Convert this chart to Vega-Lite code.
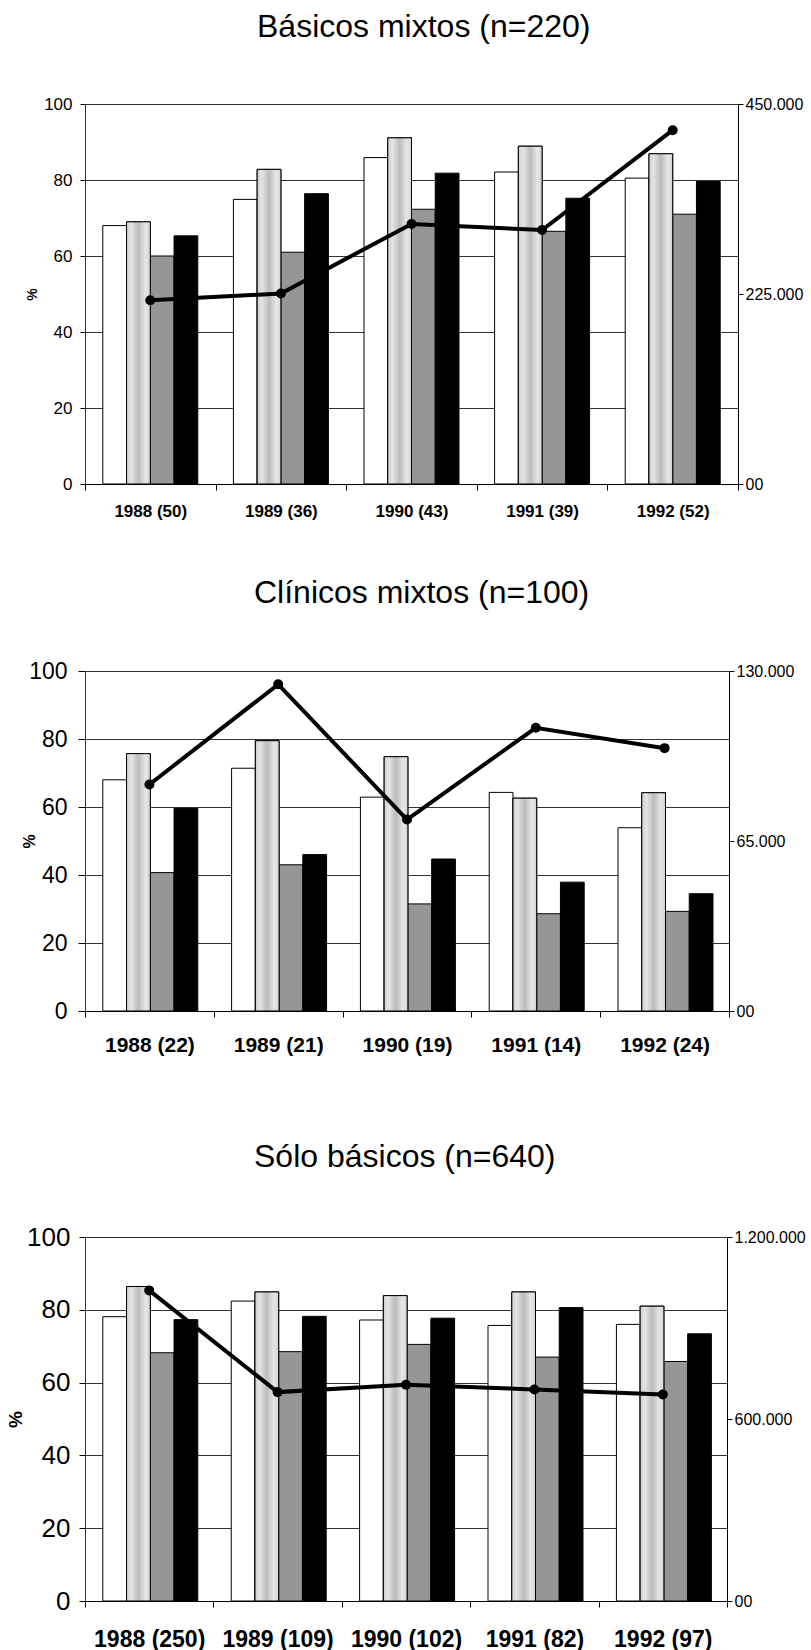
{
  "$schema": "https://vega.github.io/schema/vega-lite/v6.json",
  "padding": {"left": 6, "top": 11, "right": 0, "bottom": 0},
  "background": "white",
  "config": {
    "font": "Liberation Sans",
    "view": {"stroke": null},
    "concat": {"spacing": 58},
    "axis": {"labelColor": "#000", "titleColor": "#000", "domainColor": "#000", "tickColor": "#000", "gridColor": "#333", "labelFont": "Liberation Sans", "titleFont": "Liberation Sans"},
    "title": {"font": "Liberation Sans", "fontWeight": "normal", "color": "#000"}
  },
  "datasets": {
    "b1": [
      {"g": "1988 (50)", "s": "s1", "v": 68.0}, {"g": "1988 (50)", "s": "s2", "v": 69.0}, {"g": "1988 (50)", "s": "s3", "v": 60.0}, {"g": "1988 (50)", "s": "s4", "v": 65.3},
      {"g": "1989 (36)", "s": "s1", "v": 74.9}, {"g": "1989 (36)", "s": "s2", "v": 82.8}, {"g": "1989 (36)", "s": "s3", "v": 61.0}, {"g": "1989 (36)", "s": "s4", "v": 76.4},
      {"g": "1990 (43)", "s": "s1", "v": 85.9}, {"g": "1990 (43)", "s": "s2", "v": 91.1}, {"g": "1990 (43)", "s": "s3", "v": 72.3}, {"g": "1990 (43)", "s": "s4", "v": 81.8},
      {"g": "1991 (39)", "s": "s1", "v": 82.1}, {"g": "1991 (39)", "s": "s2", "v": 88.9}, {"g": "1991 (39)", "s": "s3", "v": 66.5}, {"g": "1991 (39)", "s": "s4", "v": 75.2},
      {"g": "1992 (52)", "s": "s1", "v": 80.5}, {"g": "1992 (52)", "s": "s2", "v": 86.9}, {"g": "1992 (52)", "s": "s3", "v": 71.0}, {"g": "1992 (52)", "s": "s4", "v": 79.6}
    ],
    "l1": [
      {"g": "1988 (50)", "n": 217500}, {"g": "1989 (36)", "n": 225500}, {"g": "1990 (43)", "n": 308000}, {"g": "1991 (39)", "n": 300700}, {"g": "1992 (52)", "n": 419000}
    ],
    "b2": [
      {"g": "1988 (22)", "s": "s1", "v": 68.0}, {"g": "1988 (22)", "s": "s2", "v": 75.7}, {"g": "1988 (22)", "s": "s3", "v": 40.7}, {"g": "1988 (22)", "s": "s4", "v": 59.6},
      {"g": "1989 (21)", "s": "s1", "v": 71.4}, {"g": "1989 (21)", "s": "s2", "v": 79.5}, {"g": "1989 (21)", "s": "s3", "v": 43.0}, {"g": "1989 (21)", "s": "s4", "v": 46.0},
      {"g": "1990 (19)", "s": "s1", "v": 62.9}, {"g": "1990 (19)", "s": "s2", "v": 74.8}, {"g": "1990 (19)", "s": "s3", "v": 31.5}, {"g": "1990 (19)", "s": "s4", "v": 44.7},
      {"g": "1991 (14)", "s": "s1", "v": 64.3}, {"g": "1991 (14)", "s": "s2", "v": 62.6}, {"g": "1991 (14)", "s": "s3", "v": 28.6}, {"g": "1991 (14)", "s": "s4", "v": 37.9},
      {"g": "1992 (24)", "s": "s1", "v": 53.9}, {"g": "1992 (24)", "s": "s2", "v": 64.2}, {"g": "1992 (24)", "s": "s3", "v": 29.3}, {"g": "1992 (24)", "s": "s4", "v": 34.5}
    ],
    "l2": [
      {"g": "1988 (22)", "n": 86600}, {"g": "1989 (21)", "n": 124900}, {"g": "1990 (19)", "n": 73200}, {"g": "1991 (14)", "n": 108300}, {"g": "1992 (24)", "n": 100500}
    ],
    "b3": [
      {"g": "1988 (250)", "s": "s1", "v": 78.1}, {"g": "1988 (250)", "s": "s2", "v": 86.4}, {"g": "1988 (250)", "s": "s3", "v": 68.2}, {"g": "1988 (250)", "s": "s4", "v": 77.3},
      {"g": "1989 (109)", "s": "s1", "v": 82.4}, {"g": "1989 (109)", "s": "s2", "v": 84.9}, {"g": "1989 (109)", "s": "s3", "v": 68.5}, {"g": "1989 (109)", "s": "s4", "v": 78.2},
      {"g": "1990 (102)", "s": "s1", "v": 77.2}, {"g": "1990 (102)", "s": "s2", "v": 83.9}, {"g": "1990 (102)", "s": "s3", "v": 70.5}, {"g": "1990 (102)", "s": "s4", "v": 77.7},
      {"g": "1991 (82)", "s": "s1", "v": 75.7}, {"g": "1991 (82)", "s": "s2", "v": 84.9}, {"g": "1991 (82)", "s": "s3", "v": 67.0}, {"g": "1991 (82)", "s": "s4", "v": 80.6},
      {"g": "1992 (97)", "s": "s1", "v": 76.0}, {"g": "1992 (97)", "s": "s2", "v": 81.0}, {"g": "1992 (97)", "s": "s3", "v": 65.8}, {"g": "1992 (97)", "s": "s4", "v": 73.4}
    ],
    "l3": [
      {"g": "1988 (250)", "n": 1024000}, {"g": "1989 (109)", "n": 688700}, {"g": "1990 (102)", "n": 713000}, {"g": "1991 (82)", "n": 697500}, {"g": "1992 (97)", "n": 680800}
    ]
  },
  "vconcat": [
    {
      "width": 653, "height": 380,
      "title": {"text": "Básicos mixtos (n=220)", "fontSize": 32, "anchor": "start", "frame": "group", "dx": 172, "offset": 26, "baseline": "alphabetic"},
      "encoding": {
        "x": {"field": "g", "type": "nominal", "sort": null, "scale": {"paddingInner": 0, "paddingOuter": 0},
          "axis": {"title": null, "labelAngle": 0, "tickBand": "extent", "tickSize": 6, "labelFontSize": 17, "labelFontWeight": "bold", "labelPadding": 13, "grid": false}}
      },
      "layer": [
        {
          "data": {"name": "b1"},
          "encoding": {
            "xOffset": {"field": "s", "type": "nominal", "scale": {"domain": ["s1", "s2", "s3", "s4"], "paddingInner": 0, "paddingOuter": 0.75}},
            "y": {"field": "v", "type": "quantitative", "scale": {"domain": [0, 100], "nice": false},
              "axis": {"values": [0, 20, 40, 60, 80, 100], "grid": true, "title": "%", "titleFontWeight": "bold", "titleFontSize": 14, "titleAngle": -90, "titleBaseline": "middle", "titleX": -53, "titleY": 190, "labelFontSize": 17, "tickSize": 5, "labelPadding": 8, "domainColor": "#333"}}
          },
          "layer": [
            {"mark": {"type": "bar", "stroke": "#000", "strokeWidth": 1},
              "encoding": {"fill": {"field": "s", "type": "nominal", "scale": {"domain": ["s1", "s2", "s3", "s4"], "range": ["#ffffff", "#d0d0d0", "#969696", "#000000"]}, "legend": null}}},
            {"transform": [{"filter": "datum.s == 's2'"}],
              "mark": {"type": "bar", "stroke": "#000", "strokeWidth": 1, "fill": {"gradient": "linear", "x1": 0, "x2": 1, "y1": 0, "y2": 0, "stops": [{"offset": 0, "color": "#cfcfcf"}, {"offset": 0.2, "color": "#e4e4e4"}, {"offset": 0.5, "color": "#bcbcbc"}, {"offset": 0.8, "color": "#e6e6e6"}, {"offset": 1, "color": "#d4d4d4"}]}}}
          ]
        },
        {
          "data": {"name": "l1"},
          "encoding": {
            "y": {"field": "n", "type": "quantitative", "scale": {"domain": [0, 450000], "nice": false},
              "axis": {"orient": "right", "title": null, "values": [0, 225000, 450000], "labelExpr": "datum.value == 0 ? '00' : replace(format(datum.value, ',d'), /,/g, '.')", "grid": false, "tickSize": 5, "labelFontSize": 16, "labelPadding": 2}}
          },
          "layer": [
            {"mark": {"type": "line", "color": "#000", "strokeWidth": 4}},
            {"mark": {"type": "point", "filled": true, "color": "#000", "size": 100, "opacity": 1}}
          ]
        }
      ],
      "resolve": {"scale": {"y": "independent"}}
    },
    {
      "width": 644, "height": 340,
      "title": {"text": "Clínicos mixtos (n=100)", "fontSize": 32, "anchor": "start", "frame": "group", "dx": 169, "offset": 25, "baseline": "alphabetic"},
      "encoding": {
        "x": {"field": "g", "type": "nominal", "sort": null, "scale": {"paddingInner": 0, "paddingOuter": 0},
          "axis": {"title": ".", "titleOpacity": 0, "titleFontSize": 10, "titlePadding": 18, "labelAngle": 0, "tickBand": "extent", "tickSize": 6, "labelFontSize": 21, "labelFontWeight": "bold", "labelPadding": 17, "grid": false}}
      },
      "layer": [
        {
          "data": {"name": "b2"},
          "encoding": {
            "xOffset": {"field": "s", "type": "nominal", "scale": {"domain": ["s1", "s2", "s3", "s4"], "paddingInner": 0, "paddingOuter": 0.73}},
            "y": {"field": "v", "type": "quantitative", "scale": {"domain": [0, 100], "nice": false},
              "axis": {"values": [0, 20, 40, 60, 80, 100], "grid": true, "title": "%", "titleFontWeight": "bold", "titleFontSize": 16, "titleAngle": -90, "titleBaseline": "middle", "titleX": -56, "titleY": 170, "labelFontSize": 23, "tickSize": 7, "labelPadding": 11, "domainColor": "#333"}}
          },
          "layer": [
            {"mark": {"type": "bar", "stroke": "#000", "strokeWidth": 1},
              "encoding": {"fill": {"field": "s", "type": "nominal", "scale": {"domain": ["s1", "s2", "s3", "s4"], "range": ["#ffffff", "#d0d0d0", "#969696", "#000000"]}, "legend": null}}},
            {"transform": [{"filter": "datum.s == 's2'"}],
              "mark": {"type": "bar", "stroke": "#000", "strokeWidth": 1, "fill": {"gradient": "linear", "x1": 0, "x2": 1, "y1": 0, "y2": 0, "stops": [{"offset": 0, "color": "#cfcfcf"}, {"offset": 0.2, "color": "#e4e4e4"}, {"offset": 0.5, "color": "#bcbcbc"}, {"offset": 0.8, "color": "#e6e6e6"}, {"offset": 1, "color": "#d4d4d4"}]}}}
          ]
        },
        {
          "data": {"name": "l2"},
          "encoding": {
            "y": {"field": "n", "type": "quantitative", "scale": {"domain": [0, 130000], "nice": false},
              "axis": {"orient": "right", "title": null, "values": [0, 65000, 130000], "labelExpr": "datum.value == 0 ? '00' : replace(format(datum.value, ',d'), /,/g, '.')", "grid": false, "tickSize": 5, "labelFontSize": 16, "labelPadding": 2}}
          },
          "layer": [
            {"mark": {"type": "line", "color": "#000", "strokeWidth": 4}},
            {"mark": {"type": "point", "filled": true, "color": "#000", "size": 100, "opacity": 1}}
          ]
        }
      ],
      "resolve": {"scale": {"y": "independent"}}
    },
    {
      "width": 642, "height": 364,
      "title": {"text": "Sólo básicos (n=640)", "fontSize": 32, "anchor": "start", "frame": "group", "dx": 169, "offset": 25, "baseline": "alphabetic"},
      "encoding": {
        "x": {"field": "g", "type": "nominal", "sort": null, "scale": {"paddingInner": 0, "paddingOuter": 0},
          "axis": {"title": null, "labelAngle": 0, "tickBand": "extent", "tickSize": 6, "labelFontSize": 23, "labelFontWeight": "bold", "labelPadding": 21, "grid": false}}
      },
      "layer": [
        {
          "data": {"name": "b3"},
          "encoding": {
            "xOffset": {"field": "s", "type": "nominal", "scale": {"domain": ["s1", "s2", "s3", "s4"], "paddingInner": 0, "paddingOuter": 0.667}},
            "y": {"field": "v", "type": "quantitative", "scale": {"domain": [0, 100], "nice": false},
              "axis": {"values": [0, 20, 40, 60, 80, 100], "grid": true, "title": "%", "titleFontWeight": "bold", "titleFontSize": 19, "titleAngle": -90, "titleBaseline": "middle", "titleX": -70, "titleY": 182, "labelFontSize": 26, "tickSize": 6, "labelPadding": 9, "domainColor": "#333"}}
          },
          "layer": [
            {"mark": {"type": "bar", "stroke": "#000", "strokeWidth": 1},
              "encoding": {"fill": {"field": "s", "type": "nominal", "scale": {"domain": ["s1", "s2", "s3", "s4"], "range": ["#ffffff", "#d0d0d0", "#969696", "#000000"]}, "legend": null}}},
            {"transform": [{"filter": "datum.s == 's2'"}],
              "mark": {"type": "bar", "stroke": "#000", "strokeWidth": 1, "fill": {"gradient": "linear", "x1": 0, "x2": 1, "y1": 0, "y2": 0, "stops": [{"offset": 0, "color": "#cfcfcf"}, {"offset": 0.2, "color": "#e4e4e4"}, {"offset": 0.5, "color": "#bcbcbc"}, {"offset": 0.8, "color": "#e6e6e6"}, {"offset": 1, "color": "#d4d4d4"}]}}}
          ]
        },
        {
          "data": {"name": "l3"},
          "encoding": {
            "y": {"field": "n", "type": "quantitative", "scale": {"domain": [0, 1200000], "nice": false},
              "axis": {"orient": "right", "title": null, "values": [0, 600000, 1200000], "labelExpr": "datum.value == 0 ? '00' : replace(format(datum.value, ',d'), /,/g, '.')", "grid": false, "tickSize": 5, "labelFontSize": 16, "labelPadding": 2}}
          },
          "layer": [
            {"mark": {"type": "line", "color": "#000", "strokeWidth": 4}},
            {"mark": {"type": "point", "filled": true, "color": "#000", "size": 100, "opacity": 1}}
          ]
        }
      ],
      "resolve": {"scale": {"y": "independent"}}
    }
  ]
}
